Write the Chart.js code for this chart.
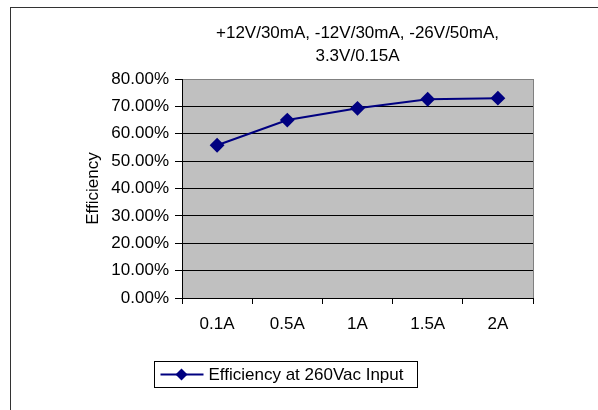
<!DOCTYPE html>
<html>
<head>
<meta charset="utf-8">
<script src="https://cdn.jsdelivr.net/npm/chart.js@4"></script>
<style>
  html, body { margin: 0; padding: 0; background: #fff; }
  #wrap { width: 598px; height: 410px; }
</style>
</head>
<body>
<div id="wrap"><canvas id="effChart" width="598" height="410"></canvas></div>
<script>
// data
const loads = ['0.1A', '0.5A', '1A', '1.5A', '2A'];
const efficiency = [55.8, 65.0, 69.3, 72.6, 73.0];
const seriesName = 'Efficiency at 260Vac Input';
const titleLines = ['+12V/30mA, -12V/30mA, -26V/50mA,', '3.3V/0.15A'];
const yMin = 0, yMax = 80, yStep = 10;

const FONT = "'Liberation Sans', Arial, sans-serif";
const NAVY = '#000080';

Chart.defaults.color = '#000';
Chart.defaults.font.family = FONT;
Chart.defaults.font.size = 17;

// grey plot area + frame round the whole chart
const backdrop = {
  id: 'backdrop',
  beforeDraw(chart) {
    const { ctx, chartArea: a } = chart;
    ctx.save();
    ctx.fillStyle = '#fff';
    ctx.fillRect(0, 0, chart.width, chart.height);
    ctx.strokeStyle = '#333';
    ctx.lineWidth = 1;
    ctx.strokeRect(10.5, 7.5, 1000, 1000);
    ctx.fillStyle = '#c0c0c0';
    ctx.fillRect(a.left, a.top, a.right - a.left, a.bottom - a.top);
    ctx.restore();
  },
  afterDraw(chart) {
    const { ctx, chartArea: a } = chart;
    ctx.save();
    // right edge of plot area
    ctx.strokeStyle = '#808080';
    ctx.lineWidth = 1;
    ctx.beginPath();
    ctx.moveTo(Math.round(a.right) + 0.5, a.top);
    ctx.lineTo(Math.round(a.right) + 0.5, a.bottom);
    ctx.stroke();

    // title, two lines centred over the plot
    ctx.fillStyle = '#000';
    ctx.font = '17px ' + FONT;
    ctx.textAlign = 'center';
    ctx.textBaseline = 'middle';
    const cx = (a.left + a.right) / 2;
    titleLines.forEach((t, i) => ctx.fillText(t, cx, 33 + i * 23));

    // boxed legend with line + diamond sample
    const bx = 154.5, by = 361.5, bw = 263, bh = 26;
    ctx.strokeStyle = '#000';
    ctx.strokeRect(bx, by, bw, bh);
    const my = by + bh / 2;
    ctx.strokeStyle = NAVY;
    ctx.lineWidth = 2;
    ctx.beginPath();
    ctx.moveTo(bx + 6, my);
    ctx.lineTo(bx + 49, my);
    ctx.stroke();
    ctx.fillStyle = NAVY;
    ctx.beginPath();
    const dx = bx + 27, r = 6;
    ctx.moveTo(dx, my - r);
    ctx.lineTo(dx + r, my);
    ctx.lineTo(dx, my + r);
    ctx.lineTo(dx - r, my);
    ctx.closePath();
    ctx.fill();
    ctx.fillStyle = '#000';
    ctx.textAlign = 'left';
    ctx.fillText(chart.data.datasets[0].label, bx + 54, my + 1);
    ctx.restore();
  }
};

new Chart(document.getElementById('effChart'), {
  type: 'line',
  data: {
    labels: loads,
    datasets: [{
      label: seriesName,
      data: efficiency,
      borderColor: NAVY,
      backgroundColor: NAVY,
      borderWidth: 2,
      pointStyle: 'rectRot',
      pointRadius: 6,
      pointHoverRadius: 6,
      tension: 0
    }]
  },
  options: {
    responsive: false,
    animation: false,
    layout: { padding: { left: 0, right: 65, top: 79, bottom: 72 } },
    plugins: {
      legend: { display: false },
      title: { display: false },
      tooltip: { enabled: false }
    },
    scales: {
      x: {
        offset: true,
        grid: {
          offset: true,
          drawOnChartArea: false,
          drawTicks: true,
          tickLength: 6,
          tickColor: '#000'
        },
        border: { display: true, color: '#000', width: 1 },
        ticks: { padding: 10, maxRotation: 0, font: { size: 17 } },
        afterFit(scale) { scale.height = 40; }
      },
      y: {
        min: yMin,
        max: yMax,
        grid: {
          color: (c) => c.tick && c.tick.value === yMax ? '#808080' : '#000',
          tickColor: '#000',
          tickLength: 7,
          lineWidth: 1
        },
        border: { display: true, color: '#000', width: 1 },
        ticks: {
          stepSize: yStep,
          padding: 6,
          font: { size: 17 },
          callback: (v) => v.toFixed(2) + '%'
        },
        title: {
          display: true,
          text: 'Efficiency',
          font: { size: 17 },
          padding: { top: 83, bottom: 0 }
        },
        afterFit(scale) { scale.width = 182; }
      }
    }
  },
  plugins: [backdrop]
});
</script>
</body>
</html>
